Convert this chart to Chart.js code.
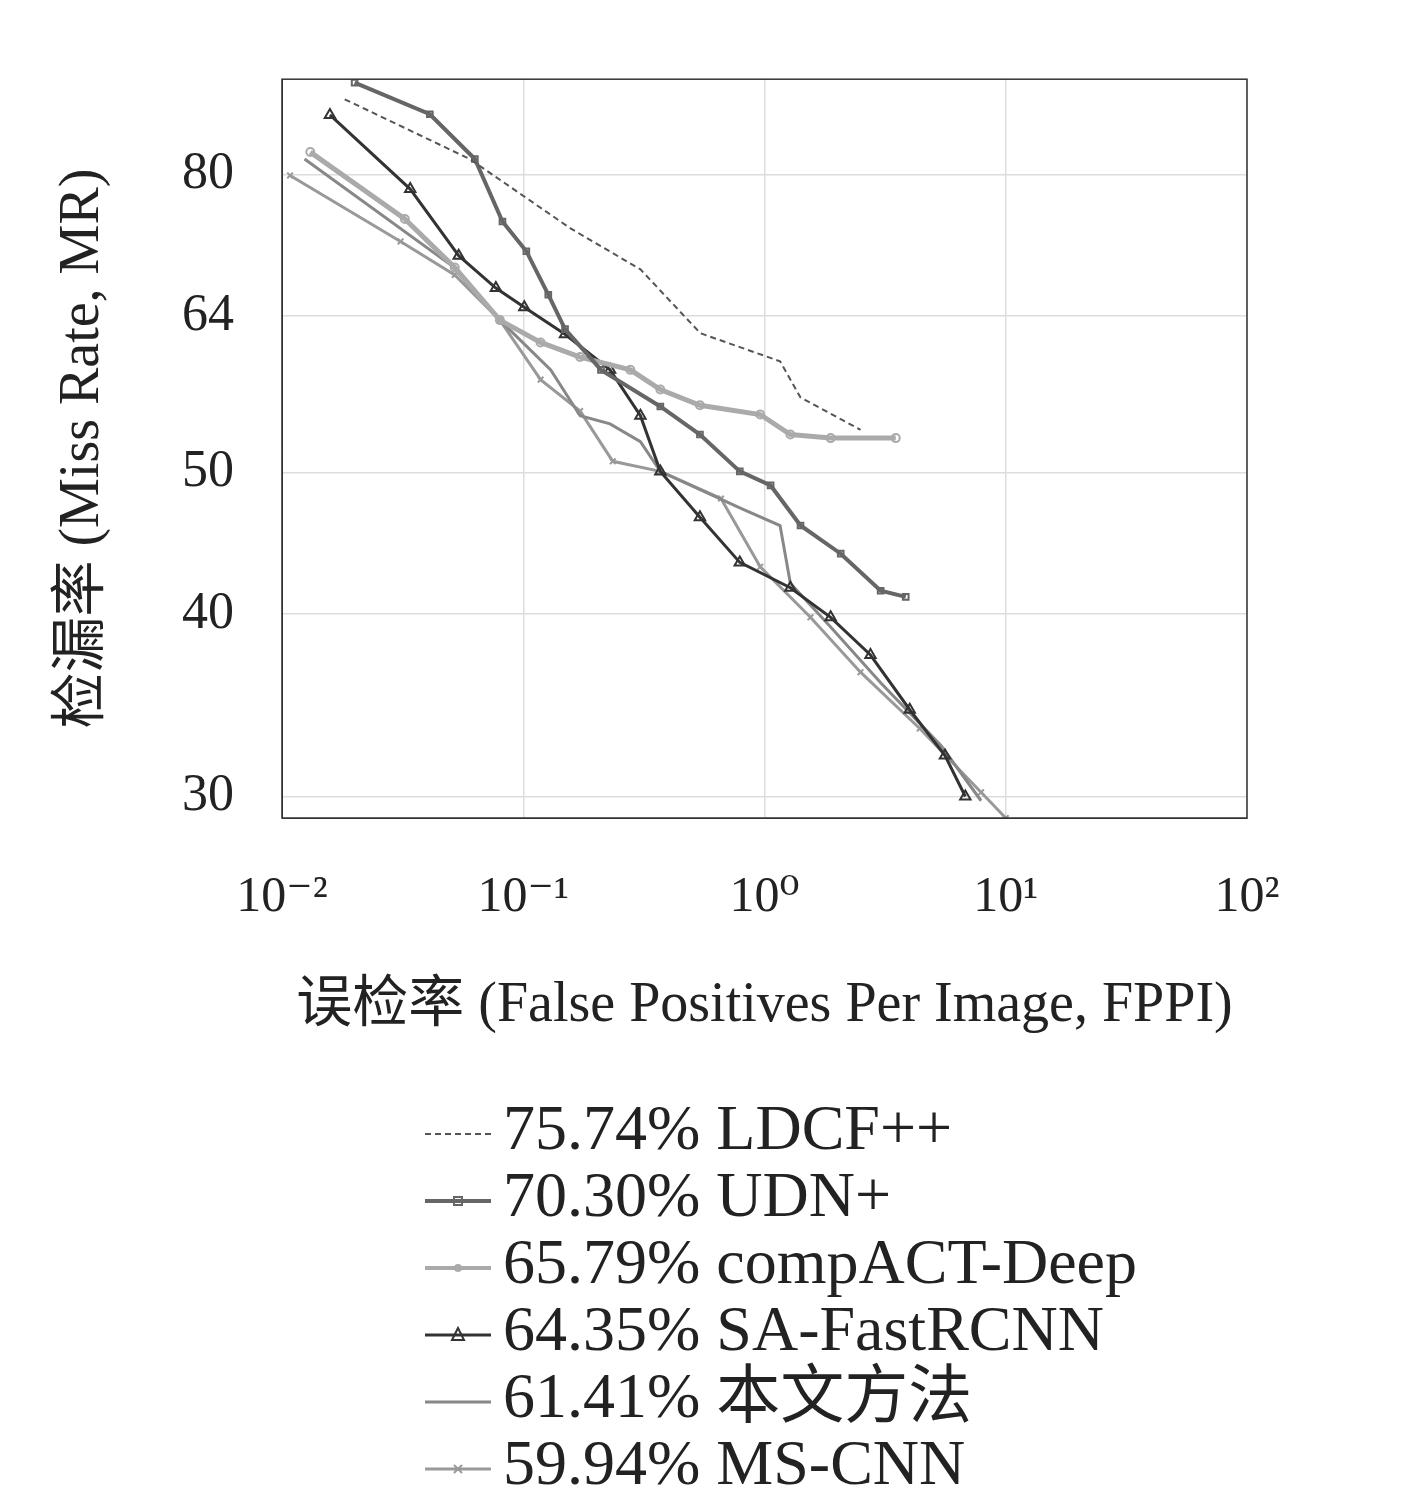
<!DOCTYPE html>
<html lang="en">
<head>
<meta charset="UTF-8">
<title>Miss rate vs FPPI</title>
<script src="https://cdn.jsdelivr.net/npm/chart.js"></script>
<style>
  body { margin: 0; background: #fff; width: 1417px; height: 1512px; overflow: hidden; }
  #wrap { position: absolute; left: 0; top: 0; width: 1417px; height: 1070px; }
  #legend { position: absolute; left: 425px; top: 1094px; font-family: "Liberation Serif", "DejaVu Serif", "Noto Sans CJK SC", serif; font-size: 64px; color: #222; }
  #legend div { height: 67px; line-height: 67px; white-space: nowrap; }
  #legend svg { vertical-align: middle; margin-right: 12px; }
</style>
</head>
<body>
<div id="wrap"><canvas id="c" width="1417" height="1070"></canvas></div>
<div id="legend"></div>
<script>
// series data: [FPPI, miss rate %]
const ldcf = [[0.0182,90.1],[0.060,82.0],[0.157,73.5],[0.306,68.9],[0.542,62.3],[1.16,59.6],[1.41,56.3],[2.5,53.5]];
const udn = [[0.020,92.5],[0.041,88.0],[0.063,82.0],[0.082,74.3],[0.103,70.9],[0.127,66.2],[0.149,62.7],[0.21,58.8],[0.37,55.5],[0.54,53.1],[0.79,50.1],[1.06,49.0],[1.41,46.0],[2.07,44.0],[3.03,41.5],[3.85,41.1]];
const compact = [[0.0131,82.9],[0.0323,74.6],[0.052,69.1],[0.080,63.6],[0.118,61.4],[0.172,60.0],[0.278,58.8],[0.37,57.0],[0.54,55.6],[0.96,54.8],[1.28,53.1],[1.88,52.8],[3.5,52.8]];
const safast = [[0.0158,87.9],[0.034,78.2],[0.054,70.4],[0.077,66.9],[0.101,64.9],[0.149,62.2],[0.229,58.8],[0.306,54.7],[0.37,50.1],[0.54,46.6],[0.79,43.4],[1.28,41.7],[1.88,39.8],[2.75,37.5],[4.0,34.4],[5.6,32.0],[6.8,30.0]];
const ours = [[0.0124,82.0],[0.05,69.4],[0.08,63.6],[0.13,58.8],[0.172,54.7],[0.229,54.0],[0.306,52.5],[0.37,50.1],[0.79,47.3],[1.16,46.0],[1.28,42.0],[1.88,39.2],[3.03,35.9],[5.4,32.5],[7.9,29.8]];
const mscnn = [[0.0108,79.9],[0.031,72.0],[0.052,68.3],[0.08,63.6],[0.118,57.9],[0.172,55.1],[0.235,50.9],[0.37,50.1],[0.66,48.0],[0.96,43.1],[1.55,39.8],[2.5,36.5],[4.4,33.4],[7.9,30.2],[10,29.0]];
const seriesNames = ['75.74% LDCF++','70.30% UDN+','65.79% compACT-Deep','64.35% SA-FastRCNN','61.41% 本文方法','59.94% MS-CNN'];
const yTicks = [30,40,50,64,80];
const xTicks = [0.01,0.1,1,10,100];
const xTickLabels = ['10\u207B\u00B2','10\u207B\u00B9','10\u2070','10\u00B9','10\u00B2'];

const styles = [
  {color:'#555', width:2, dash:[6,4], point:false, r:0},
  {color:'#666', width:4, dash:[], point:'rect', r:4},
  {color:'#aaa', width:5, dash:[], point:'circle', r:4},
  {color:'#333', width:3, dash:[], point:'triangle', r:6},
  {color:'#888', width:3, dash:[], point:false, r:0},
  {color:'#999', width:3, dash:[], point:'crossRot', r:4}
];
const all = [ldcf, udn, compact, safast, ours, mscnn];
const serif = '"Liberation Serif", "DejaVu Serif", serif';

const frame = {
  id: 'frame',
  afterDraw(chart) {
    const a = chart.chartArea, c = chart.ctx;
    c.save(); c.strokeStyle = '#333'; c.lineWidth = 1.5;
    c.strokeRect(a.left, a.top, a.right - a.left, a.bottom - a.top);
    c.restore();
  }
};

new Chart(document.getElementById('c'), {
  type: 'line',
  data: {
    datasets: all.map((d, i) => ({
      label: seriesNames[i],
      data: d.map(p => ({x: p[0], y: p[1]})),
      borderColor: styles[i].color,
      backgroundColor: styles[i].color,
      borderWidth: styles[i].width,
      borderDash: styles[i].dash,
      pointStyle: styles[i].point,
      pointRadius: styles[i].r,
      pointBorderWidth: 2,
      pointBackgroundColor: 'transparent',
      tension: 0
    }))
  },
  options: {
    responsive: false,
    animation: false,
    layout: { padding: { top: -54, right: 170, left: 0, bottom: 0 } },
    plugins: { legend: { display: false }, tooltip: { enabled: false } },
    scales: {
      x: {
        type: 'logarithmic', min: 0.01, max: 100,
        afterBuildTicks: s => { s.ticks = xTicks.map(v => ({value: v})); },
        afterFit: s => { s.height = 252; },
        ticks: { color: '#222', font: {family: serif, size: 50}, padding: 50, maxRotation: 0,
                 callback: (v, i) => xTickLabels[i] },
        grid: { color: '#ddd', lineWidth: 1.5, drawTicks: false },
        border: { color: '#333' },
        title: { display: true, text: '误检率 (False Positives Per Image, FPPI)', color: '#222',
                 font: {family: '"Liberation Serif", "Noto Sans CJK SC", serif', size: 56}, padding: {top: 0, bottom: 30} }
      },
      y: {
        type: 'logarithmic', min: 29.0, max: 93,
        afterBuildTicks: s => { s.ticks = yTicks.map(v => ({value: v})); },
        afterFit: s => { s.width = 282; },
        ticks: { color: '#222', font: {family: serif, size: 52}, padding: 48,
                 callback: v => String(v) },
        grid: { color: '#ddd', lineWidth: 1.5, drawTicks: false },
        border: { color: '#333' },
        title: { display: true, text: '检漏率 (Miss Rate, MR)', color: '#222',
                 font: {family: '"Liberation Serif", "Noto Sans CJK SC", serif', size: 56}, padding: {top: 50, bottom: 0} }
      }
    }
  },
  plugins: [frame]
});

// legend as real text with small line samples
const leg = document.getElementById('legend');
const markSvg = (st) => {
  let m = '';
  if (st.point === 'rect') m = `<rect x="29" y="12" width="8" height="8" fill="none" stroke="${st.color}" stroke-width="2"/>`;
  if (st.point === 'circle') m = `<circle cx="33" cy="16" r="4" fill="${st.color}"/>`;
  if (st.point === 'triangle') m = `<polygon points="33,9 27,21 39,21" fill="none" stroke="${st.color}" stroke-width="2"/>`;
  if (st.point === 'crossRot') m = `<path d="M29 12 L37 20 M37 12 L29 20" stroke="${st.color}" stroke-width="2"/>`;
  return `<svg width="66" height="32"><line x1="0" y1="16" x2="66" y2="16" stroke="${st.color}" stroke-width="${Math.min(st.width,4)}" ${st.dash.length ? 'stroke-dasharray="6,4"' : ''}/>${m}</svg>`;
};
seriesNames.forEach((n, i) => {
  const d = document.createElement('div');
  d.innerHTML = markSvg(styles[i]) + n;
  leg.appendChild(d);
});
</script>
</body>
</html>
